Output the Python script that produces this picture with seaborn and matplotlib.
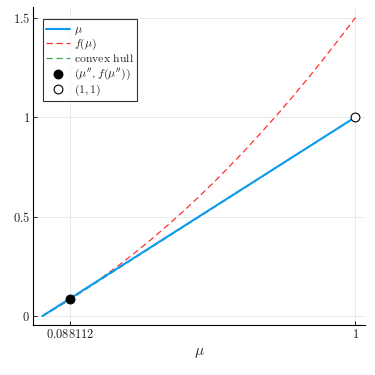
import numpy as np
import pandas as pd
import seaborn as sns
from matplotlib import pyplot as plt

# values
mu = [0.0, 0.05, 0.1, 0.15, 0.2, 0.25, 0.3, 0.35, 0.4, 0.45, 0.5,
      0.55, 0.6, 0.65, 0.7, 0.75, 0.8, 0.85, 0.9, 0.95, 1.0]
f_mu = [0.0, 0.046, 0.096, 0.148, 0.204, 0.262, 0.324, 0.388, 0.456, 0.526, 0.600,
        0.676, 0.756, 0.838, 0.924, 1.012, 1.104, 1.198, 1.296, 1.397, 1.5]
hull_x = [0.0, 0.044, 0.088112, 1.0]
hull_y = [0.0, 0.041, 0.0838, 1.0]
mu_pp = 0.088112
f_pp = 0.0838

sns.set_theme(style="white", rc={"axes.edgecolor": "#000000", "axes.grid": True,
              "axes.linewidth": 0.8,
              "grid.color": "#e6e6e6", "grid.linewidth": 0.6,
              "xtick.direction": "in", "ytick.direction": "in",
              "xtick.bottom": True, "ytick.left": True,
              "xtick.major.size": 3, "ytick.major.size": 3,
              "xtick.major.width": 0.6, "ytick.major.width": 0.6,
              "axes.spines.top": False, "axes.spines.right": False})
plt.rcParams["mathtext.fontset"] = "cm"
plt.rcParams["font.family"] = ["DejaVu Serif"]

df_line = pd.DataFrame({"x": mu, "y": mu})
df_f = pd.DataFrame({"x": mu, "y": f_mu})
df_h = pd.DataFrame({"x": hull_x, "y": hull_y})

fig = plt.figure(figsize=(3.75, 3.75), dpi=100)
ax = fig.add_axes([0.088, 0.1333, 0.885, 0.848])

sns.lineplot(data=df_line, x="x", y="y", ax=ax, color="#0D9BF0", lw=1.5,
             label=r"$\mu$", zorder=3)
sns.lineplot(data=df_f, x="x", y="y", ax=ax, color="#FF3030", lw=0.9,
             label=r"$f(\mu)$", zorder=2)
ax.lines[-1].set_linestyle((0, (5, 3)))
sns.lineplot(data=df_h, x="x", y="y", ax=ax, color="#3EA44E", lw=0.9,
             label=r"$\mathrm{convex\ hull}$", zorder=2)
ax.lines[-1].set_linestyle((0, (5, 3)))
sns.scatterplot(x=[mu_pp], y=[f_pp], ax=ax, color="black", s=40,
                edgecolor="black", linewidth=0.8, label=r"$(\mu'', f(\mu''))$", zorder=4)
sns.scatterplot(x=[1.0], y=[1.0], ax=ax, color="white", s=40,
                edgecolor="black", linewidth=0.8, label=r"$(1,1)$", zorder=4)

ax.set_xlim(-0.03, 1.03)
ax.set_ylim(-0.045, 1.553)
ax.set_xticks([mu_pp, 1.0])
ax.set_xticklabels([r"$0.088112$", r"$1$"], fontsize=9)
ax.set_yticks([0, 0.5, 1, 1.5])
ax.set_yticklabels([r"$0$", r"$0.5$", r"$1$", r"$1.5$"], fontsize=9)
ax.tick_params(axis="both", pad=2, colors="#000000", labelcolor="#222222")
ax.set_xlabel(r"$\mu$", fontsize=11, labelpad=4)
ax.set_ylabel("")

leg = ax.legend(loc="upper left", bbox_to_anchor=(0.03, 0.962), fontsize=8.5,
                frameon=True, fancybox=False, edgecolor="black",
                handlelength=2.0, handletextpad=0.3, borderpad=0.3,
                labelspacing=0.02, borderaxespad=0.0, markerscale=1.0)
leg.get_frame().set_linewidth(0.8)

plt.savefig("out.png", dpi=100)
